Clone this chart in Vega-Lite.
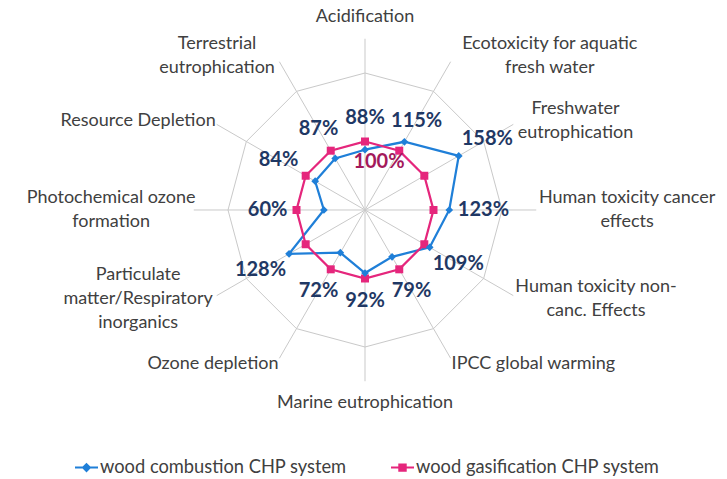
{
  "$schema": "https://vega.github.io/schema/vega-lite/v6.json",
  "width": 727,
  "height": 479,
  "autosize": "none",
  "padding": 0,
  "background": "white",
  "config": {
    "view": {"stroke": null},
    "font": "Lato"
  },
  "datasets": {
    "cats": [
      {"idx": 0, "label": "Acidification"},
      {"idx": 1, "label": "Ecotoxicity for aquatic\nfresh water"},
      {"idx": 2, "label": "Freshwater\neutrophication"},
      {"idx": 3, "label": "Human toxicity cancer\neffects"},
      {"idx": 4, "label": "Human toxicity non-\ncanc. Effects"},
      {"idx": 5, "label": "IPCC global warming"},
      {"idx": 6, "label": "Marine eutrophication"},
      {"idx": 7, "label": "Ozone depletion"},
      {"idx": 8, "label": "Particulate\nmatter/Respiratory\ninorganics"},
      {"idx": 9, "label": "Photochemical ozone\nformation"},
      {"idx": 10, "label": "Resource Depletion"},
      {"idx": 11, "label": "Terrestrial\neutrophication"}
    ],
    "vals": [
      {"idx": 0, "category": "Acidification", "series": "wood combustion CHP system", "value": 0.88},
      {"idx": 1, "category": "Ecotoxicity for aquatic fresh water", "series": "wood combustion CHP system", "value": 1.15},
      {"idx": 2, "category": "Freshwater eutrophication", "series": "wood combustion CHP system", "value": 1.58},
      {"idx": 3, "category": "Human toxicity cancer effects", "series": "wood combustion CHP system", "value": 1.23},
      {"idx": 4, "category": "Human toxicity non-canc. Effects", "series": "wood combustion CHP system", "value": 1.09},
      {"idx": 5, "category": "IPCC global warming", "series": "wood combustion CHP system", "value": 0.79},
      {"idx": 6, "category": "Marine eutrophication", "series": "wood combustion CHP system", "value": 0.92},
      {"idx": 7, "category": "Ozone depletion", "series": "wood combustion CHP system", "value": 0.72},
      {"idx": 8, "category": "Particulate matter/Respiratory inorganics", "series": "wood combustion CHP system", "value": 1.28},
      {"idx": 9, "category": "Photochemical ozone formation", "series": "wood combustion CHP system", "value": 0.60},
      {"idx": 10, "category": "Resource Depletion", "series": "wood combustion CHP system", "value": 0.84},
      {"idx": 11, "category": "Terrestrial eutrophication", "series": "wood combustion CHP system", "value": 0.87},
      {"idx": 0, "category": "Acidification", "series": "wood gasification CHP system", "value": 1.0},
      {"idx": 1, "category": "Ecotoxicity for aquatic fresh water", "series": "wood gasification CHP system", "value": 1.0},
      {"idx": 2, "category": "Freshwater eutrophication", "series": "wood gasification CHP system", "value": 1.0},
      {"idx": 3, "category": "Human toxicity cancer effects", "series": "wood gasification CHP system", "value": 1.0},
      {"idx": 4, "category": "Human toxicity non-canc. Effects", "series": "wood gasification CHP system", "value": 1.0},
      {"idx": 5, "category": "IPCC global warming", "series": "wood gasification CHP system", "value": 1.0},
      {"idx": 6, "category": "Marine eutrophication", "series": "wood gasification CHP system", "value": 1.0},
      {"idx": 7, "category": "Ozone depletion", "series": "wood gasification CHP system", "value": 1.0},
      {"idx": 8, "category": "Particulate matter/Respiratory inorganics", "series": "wood gasification CHP system", "value": 1.0},
      {"idx": 9, "category": "Photochemical ozone formation", "series": "wood gasification CHP system", "value": 1.0},
      {"idx": 10, "category": "Resource Depletion", "series": "wood gasification CHP system", "value": 1.0},
      {"idx": 11, "category": "Terrestrial eutrophication", "series": "wood gasification CHP system", "value": 1.0}
    ]
  },
  "encoding": {
    "x": {"field": "px", "type": "quantitative", "scale": {"domain": [-5.32847, 5.28467], "nice": false, "zero": false}, "axis": null},
    "y": {"field": "py", "type": "quantitative", "scale": {"domain": [-3.92701, 3.06569], "nice": false, "zero": false}, "axis": null}
  },
  "layer": [
    {
      "data": {"name": "cats"},
      "transform": [
        {"calculate": "datum.idx*PI/6", "as": "th"},
        {"calculate": "2.5*sin(datum.th)", "as": "px"},
        {"calculate": "2.5*cos(datum.th)", "as": "py"}
      ],
      "mark": {"type": "rule", "color": "#c9c9c9", "strokeWidth": 1},
      "encoding": {"x2": {"datum": 0}, "y2": {"datum": 0}}
    },
    {
      "data": {"name": "cats"},
      "transform": [
        {"calculate": "[1, 2]", "as": "ring"},
        {"flatten": ["ring"]},
        {"calculate": "datum.idx*PI/6", "as": "th"},
        {"calculate": "datum.ring*sin(datum.th)", "as": "px"},
        {"calculate": "datum.ring*cos(datum.th)", "as": "py"}
      ],
      "mark": {"type": "line", "color": "#c9c9c9", "strokeWidth": 1, "interpolate": "linear-closed"},
      "encoding": {
        "detail": {"field": "ring", "type": "nominal"},
        "order": {"field": "idx", "type": "quantitative"}
      }
    },
    {
      "data": {"name": "vals"},
      "transform": [
        {"calculate": "datum.idx*PI/6", "as": "th"},
        {"calculate": "datum.value*sin(datum.th)", "as": "px"},
        {"calculate": "datum.value*cos(datum.th)", "as": "py"}
      ],
      "mark": {"type": "line", "strokeWidth": 2.25, "interpolate": "linear-closed"},
      "encoding": {
        "color": {"field": "series", "type": "nominal", "scale": {"range": ["#1f7fd8", "#e5267c"]}, "legend": null},
        "order": {"field": "idx", "type": "quantitative"}
      }
    },
    {
      "data": {"name": "vals"},
      "transform": [
        {"filter": "datum.series == 'wood gasification CHP system'"},
        {"calculate": "datum.idx*PI/6", "as": "th"},
        {"calculate": "datum.value*sin(datum.th)", "as": "px"},
        {"calculate": "datum.value*cos(datum.th)", "as": "py"}
      ],
      "mark": {"type": "point", "shape": "square", "filled": true, "size": 64, "opacity": 1, "color": "#e5267c"}
    },
    {
      "data": {"name": "vals"},
      "transform": [
        {"filter": "datum.series == 'wood combustion CHP system'"},
        {"calculate": "datum.idx*PI/6", "as": "th"},
        {"calculate": "datum.value*sin(datum.th)", "as": "px"},
        {"calculate": "datum.value*cos(datum.th)", "as": "py"}
      ],
      "mark": {"type": "point", "shape": "diamond", "filled": true, "size": 60, "opacity": 1, "color": "#1f7fd8"}
    },
    {
      "data": {"name": "vals"},
      "transform": [
        {"filter": "datum.series == 'wood combustion CHP system'"},
        {"calculate": "datum.idx*PI/6", "as": "th"},
        {"calculate": "format(datum.value, '.0%')", "as": "lab"},
        {"calculate": "length(datum.lab)*5.3", "as": "hw"},
        {"calculate": "min(abs(sin(datum.th)) > 0.01 ? datum.hw/abs(sin(datum.th)) : 999, abs(cos(datum.th)) > 0.01 ? 10/abs(cos(datum.th)) : 999)", "as": "ext"},
        {"calculate": "(max(datum.value, 1)*68.5 + 13 + datum.ext)/68.5", "as": "rl"},
        {"calculate": "datum.rl*sin(datum.th)", "as": "px"},
        {"calculate": "datum.rl*cos(datum.th)", "as": "py"}
      ],
      "mark": {"type": "text", "font": "Lato", "fontSize": 20, "fontWeight": "bold", "color": "#1f3864", "align": "center", "baseline": "middle"},
      "encoding": {"text": {"field": "lab", "type": "nominal"}}
    },
    {
      "data": {"name": "vals"},
      "transform": [
        {"filter": "datum.series == 'wood gasification CHP system' && datum.idx == 0"},
        {"calculate": "datum.idx*PI/6", "as": "th"},
        {"calculate": "datum.value*sin(datum.th)", "as": "px"},
        {"calculate": "datum.value*cos(datum.th)", "as": "py"},
        {"calculate": "format(datum.value, '.0%')", "as": "lab"}
      ],
      "mark": {"type": "text", "font": "Lato", "fontSize": 20, "fontWeight": "bold", "color": "#a3195b", "align": "center", "baseline": "middle", "dx": 14, "dy": 21},
      "encoding": {"text": {"field": "lab", "type": "nominal"}}
    },
    {
      "data": {"name": "cats"},
      "transform": [
        {"calculate": "datum.idx*PI/6", "as": "th"},
        {"calculate": "split(datum.label, '\\n')", "as": "lines"},
        {"calculate": "max(length(datum.lines[0]), datum.lines.length > 1 ? length(datum.lines[1]) : 0, datum.lines.length > 2 ? length(datum.lines[2]) : 0)", "as": "maxlen"},
        {"calculate": "abs(sin(datum.th)) < 0.01 ? 0 : (sin(datum.th) > 0 ? 1 : -1)", "as": "side"},
        {"calculate": "(171*sin(datum.th) + datum.side*(5 + datum.maxlen*8.2/2))/68.5", "as": "px"},
        {"calculate": "((datum.side == 0 ? 193 : 178)*cos(datum.th) + (datum.lines.length - 1)*12)/68.5", "as": "py"}
      ],
      "mark": {"type": "text", "font": "Lato", "fontSize": 18, "color": "#404040", "align": "center", "baseline": "middle", "lineBreak": "\n", "lineHeight": 24},
      "encoding": {"text": {"field": "label", "type": "nominal"}}
    },
    {
      "data": {"name": "vals"},
      "transform": [
        {"filter": "datum.idx == 0"},
        {"calculate": "99", "as": "px"},
        {"calculate": "99", "as": "py"}
      ],
      "mark": {"type": "point", "filled": true, "opacity": 1, "strokeWidth": 2, "clip": true},
      "encoding": {
        "fill": {"field": "series", "type": "nominal", "scale": {"domain": ["wood combustion CHP system", "wood gasification CHP system"], "range": ["#1f7fd8", "#e5267c"]},
          "legend": {"title": null, "orient": "none", "legendX": 74, "legendY": 455, "direction": "horizontal", "symbolSize": 529, "symbolStrokeWidth": 2, "labelFont": "Lato", "labelFontSize": 18.3, "labelColor": "#404040", "labelOffset": 1, "labelLimit": 400, "columnPadding": 40, "padding": 0}},
        "stroke": {"field": "series", "type": "nominal", "scale": {"domain": ["wood combustion CHP system", "wood gasification CHP system"], "range": ["#1f7fd8", "#e5267c"]},
          "legend": {"title": null, "orient": "none", "legendX": 74, "legendY": 455, "direction": "horizontal", "symbolSize": 529, "symbolStrokeWidth": 2, "labelFont": "Lato", "labelFontSize": 18.3, "labelColor": "#404040", "labelOffset": 1, "labelLimit": 400, "columnPadding": 40, "padding": 0}},
        "shape": {"field": "series", "type": "nominal", "scale": {"domain": ["wood combustion CHP system", "wood gasification CHP system"], "range": ["M-1,0H1M0,-0.3L0.3,0L0,0.3L-0.3,0Z", "M-1,0H1M-0.28,-0.28H0.28V0.28H-0.28Z"]},
          "legend": {"title": null, "orient": "none", "legendX": 74, "legendY": 455, "direction": "horizontal", "symbolSize": 529, "symbolStrokeWidth": 2, "labelFont": "Lato", "labelFontSize": 18.3, "labelColor": "#404040", "labelOffset": 1, "labelLimit": 400, "columnPadding": 40, "padding": 0}}
      }
    }
  ]
}
